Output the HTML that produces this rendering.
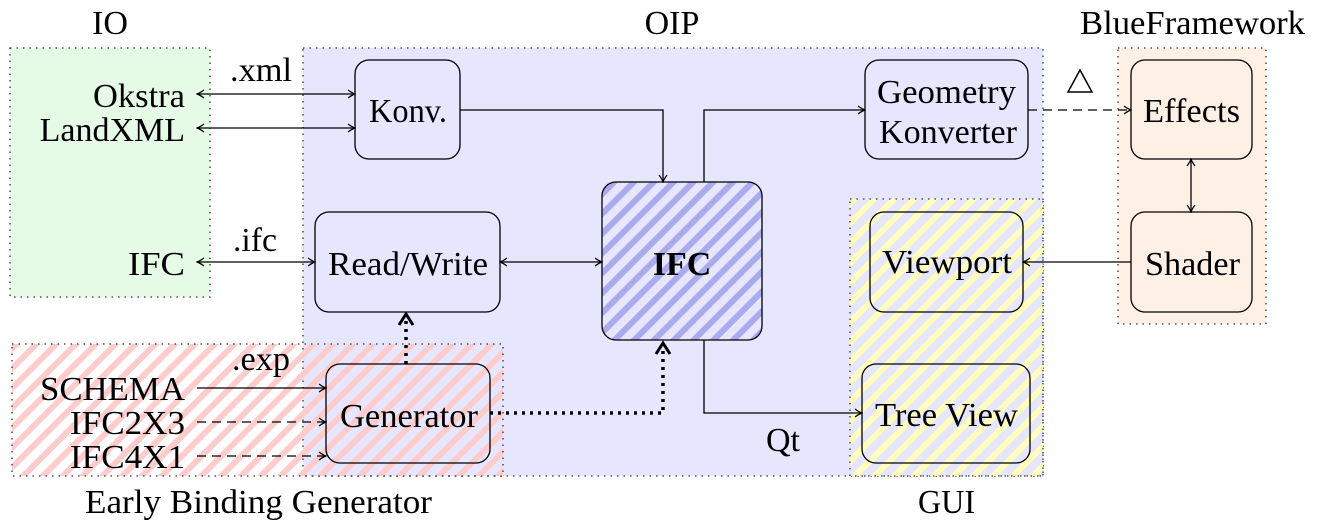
<!DOCTYPE html>
<html><head><meta charset="utf-8"><style>html,body{margin:0;padding:0;background:#fff}svg{display:block}text{font-family:"Liberation Serif",serif;font-size:34px;fill:#000}</style></head><body>
<svg width="1318" height="529" viewBox="0 0 1318 529" xmlns="http://www.w3.org/2000/svg">
<defs>
<pattern id="pink" patternUnits="userSpaceOnUse" width="14" height="14" patternTransform="rotate(45)"><rect x="0" y="0" width="6" height="14" fill="#ffcccc"/></pattern>
<pattern id="yel" patternUnits="userSpaceOnUse" width="14" height="14" patternTransform="rotate(45)"><rect x="0" y="0" width="6" height="14" fill="#ffffbb"/></pattern>
<pattern id="blue" patternUnits="userSpaceOnUse" width="14" height="14" patternTransform="rotate(45)"><rect x="0" y="0" width="14" height="14" fill="#e6e6ff"/><rect x="0" y="0" width="6" height="14" fill="#aaaaee"/></pattern>
<marker id="ah" viewBox="0 0 10 10" refX="9" refY="5" markerWidth="10" markerHeight="10" orient="auto-start-reverse" markerUnits="userSpaceOnUse"><path d="M2,1 Q6,4 9,5 Q6,6 2,9" fill="none" stroke="#000" stroke-width="1.2"/></marker>
</defs>
<g stroke="#333" stroke-width="1.3" stroke-dasharray="1.5,5">
<rect x="10" y="48" width="200" height="249" fill="#e6fbe6"/>
<rect x="303" y="48" width="740" height="428" fill="#e6e6ff"/>
<rect x="1118" y="48" width="148" height="276" fill="#fff0e5"/>
<rect x="12" y="344" width="491" height="132" fill="url(#pink)"/>
<rect x="850" y="199" width="193" height="277" fill="url(#yel)"/>
</g>
<g stroke="#000" stroke-width="1.3">
<rect x="355" y="60" width="105" height="99" rx="14" fill="#e6e6ff"/>
<rect x="865" y="60" width="163" height="99" rx="14" fill="#e6e6ff"/>
<rect x="1131" y="60" width="121" height="99" rx="14" fill="#fff0e5"/>
<rect x="1131" y="212" width="121" height="100" rx="14" fill="#fff0e5"/>
<rect x="870" y="212" width="153" height="100" rx="14" fill="none"/>
<rect x="862" y="364" width="168" height="99" rx="14" fill="none"/>
<rect x="315" y="212" width="185" height="100" rx="14" fill="#e6e6ff"/>
<rect x="602" y="182" width="160" height="158" rx="14" fill="url(#blue)"/>
<rect x="326" y="364" width="164" height="99" rx="14" fill="none"/>
</g>
<g stroke="#000" stroke-width="1.3" fill="none">
<line x1="197" y1="94" x2="355" y2="94" marker-start="url(#ah)" marker-end="url(#ah)"/>
<line x1="197" y1="128" x2="355" y2="128" marker-start="url(#ah)" marker-end="url(#ah)"/>
<line x1="197" y1="262" x2="315" y2="262" marker-start="url(#ah)" marker-end="url(#ah)"/>
<line x1="500" y1="262" x2="602" y2="262" marker-start="url(#ah)" marker-end="url(#ah)"/>
<polyline points="460,110 663,110 663,182" marker-end="url(#ah)"/>
<polyline points="704,182 704,110 865,110" marker-end="url(#ah)"/>
<line x1="1028" y1="110" x2="1131" y2="110" stroke-dasharray="9,6" marker-end="url(#ah)"/>
<line x1="1191" y1="159" x2="1191" y2="212" marker-start="url(#ah)" marker-end="url(#ah)"/>
<line x1="1131" y1="262" x2="1023" y2="262" marker-end="url(#ah)"/>
<polyline points="704,340 704,413 862,413" marker-end="url(#ah)"/>
<line x1="197" y1="388" x2="326" y2="388" marker-end="url(#ah)"/>
<line x1="197" y1="422" x2="326" y2="422" stroke-dasharray="9,6" marker-end="url(#ah)"/>
<line x1="197" y1="456" x2="326" y2="456" stroke-dasharray="9,6" marker-end="url(#ah)"/>
<polyline points="490,413 663,413 663,345" stroke-width="3.5" stroke-dasharray="3,5"/>
<path d="M656,354 L663,343 L670,354" stroke-width="3"/>
<line x1="406" y1="364" x2="406" y2="318" stroke-width="3.5" stroke-dasharray="3,5"/>
<path d="M399,325 L406,314 L413,325" stroke-width="3"/>
<path d="M1068,92 L1080,70 L1092,92 Z" stroke-width="1.5"/>
</g>
<text x="92" y="34" textLength="36" lengthAdjust="spacingAndGlyphs">IO</text>
<text x="672" y="34" text-anchor="middle">OIP</text>
<text x="1080" y="34" textLength="225" lengthAdjust="spacingAndGlyphs">BlueFramework</text>
<text x="85" y="513" textLength="347" lengthAdjust="spacingAndGlyphs">Early Binding Generator</text>
<text x="918" y="513" textLength="57" lengthAdjust="spacingAndGlyphs">GUI</text>
<text x="93" y="107" textLength="92" lengthAdjust="spacingAndGlyphs">Okstra</text>
<text x="185" y="141" text-anchor="end" font-size="31">LandXML</text>
<text x="128" y="275" textLength="57" lengthAdjust="spacingAndGlyphs">IFC</text>
<text x="40" y="400" textLength="145" lengthAdjust="spacingAndGlyphs">SCHEMA</text>
<text x="70" y="434" textLength="115" lengthAdjust="spacingAndGlyphs">IFC2X3</text>
<text x="70" y="468" textLength="115" lengthAdjust="spacingAndGlyphs">IFC4X1</text>
<text x="230" y="81" textLength="62" lengthAdjust="spacingAndGlyphs">.xml</text>
<text x="233" y="251" textLength="44" lengthAdjust="spacingAndGlyphs">.ifc</text>
<text x="232" y="370" textLength="58" lengthAdjust="spacingAndGlyphs">.exp</text>
<text x="766" y="451" textLength="34" lengthAdjust="spacingAndGlyphs">Qt</text>
<text x="369" y="122" textLength="78" lengthAdjust="spacingAndGlyphs">Konv.</text>
<text x="877" y="103" textLength="139" lengthAdjust="spacingAndGlyphs">Geometry</text>
<text x="879" y="143" textLength="138" lengthAdjust="spacingAndGlyphs">Konverter</text>
<text x="1143" y="122" textLength="97" lengthAdjust="spacingAndGlyphs">Effects</text>
<text x="1145" y="275" textLength="95" lengthAdjust="spacingAndGlyphs">Shader</text>
<text x="882" y="273" textLength="130" lengthAdjust="spacingAndGlyphs">Viewport</text>
<text x="875" y="426" textLength="143" lengthAdjust="spacingAndGlyphs">Tree View</text>
<text x="328" y="275" textLength="160" lengthAdjust="spacingAndGlyphs">Read/Write</text>
<text x="682" y="275" text-anchor="middle" font-weight="bold" font-size="32">IFC</text>
<text x="340" y="427" textLength="138" lengthAdjust="spacingAndGlyphs">Generator</text>
</svg>
</body></html>
